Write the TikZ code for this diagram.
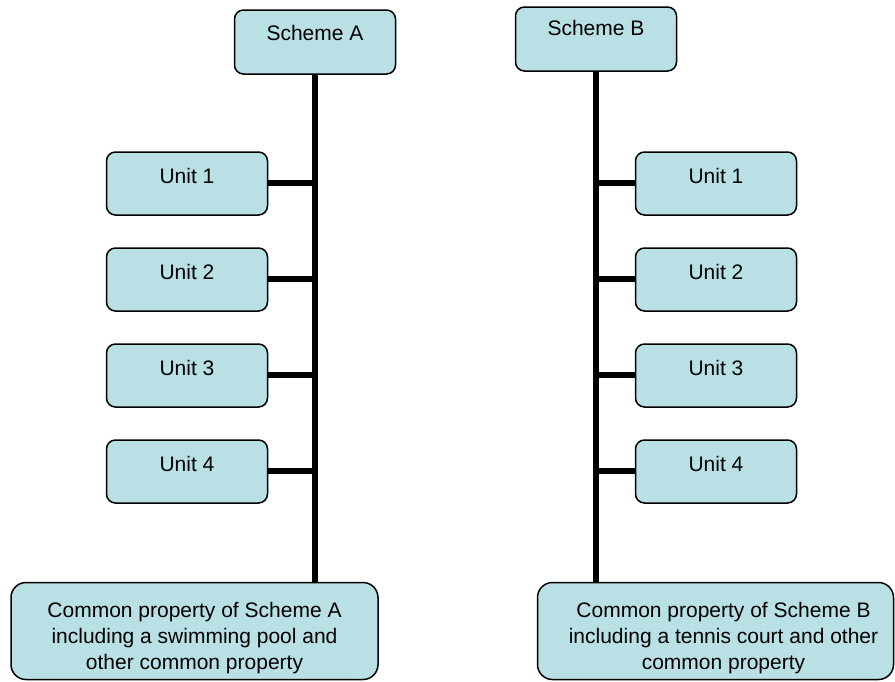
\documentclass[tikz,border=0pt]{standalone}
\usepackage{fontspec}
\setmainfont{Liberation Sans}
\definecolor{boxfill}{RGB}{185,224,228}
\begin{document}
\begin{tikzpicture}[x=1pt,y=-1pt,
  box/.style={draw=black, line width=1.5pt, fill=boxfill, rounded corners=9pt, inner sep=0pt,
    font=\fontsize{21}{26}\selectfont},
  unitbox/.style={box, minimum width=161pt, minimum height=63pt, text height=31pt, text depth=32pt},
  schemebox/.style={box, minimum width=161pt, minimum height=64pt},
  bigbox/.style={box, rounded corners=15pt},
  btext/.style={inner sep=0pt, align=center, anchor=north, font=\fontsize{21}{26}\selectfont},
  link/.style={line width=5.2pt}]
\useasboundingbox (0,0) rectangle (895,681);
% scheme boxes
\node[schemebox, text height=30pt, text depth=34pt] (sa) at (315,42) {Scheme A};
\node[schemebox, text height=28pt, text depth=36pt] (sb) at (596,39) {Scheme B};
% common property boxes
\node[bigbox, minimum width=367pt, minimum height=97pt] (ca) at (194.5,631) {};
\node[bigbox, minimum width=356pt, minimum height=97pt] (cb) at (715.5,631) {};
\node[btext] (cat) at (194.5,602) {Common property of Scheme A\\including a swimming pool and\\other common property};
\node[btext] (cbt) at (723.5,602) {Common property of Scheme B\\including a tennis court and other\\common property};
% spine coordinates
\coordinate (sa1) at (315,183);
\coordinate (sa2) at (315,279);
\coordinate (sa3) at (315,375);
\coordinate (sa4) at (315,471);
\coordinate (sb1) at (596,183);
\coordinate (sb2) at (596,279);
\coordinate (sb3) at (596,375);
\coordinate (sb4) at (596,471);
% units A
\node[unitbox] (ua1) at (187,183.5) {Unit 1};
\node[unitbox] (ua2) at (187,279.5) {Unit 2};
\node[unitbox] (ua3) at (187,375.5) {Unit 3};
\node[unitbox] (ua4) at (187,471.5) {Unit 4};
% units B
\node[unitbox] (ub1) at (716,183.5) {Unit 1};
\node[unitbox] (ub2) at (716,279.5) {Unit 2};
\node[unitbox] (ub3) at (716,375.5) {Unit 3};
\node[unitbox] (ub4) at (716,471.5) {Unit 4};
% connectors
\draw[link] (sa.south) -- (sa.south |- ca.north);
\draw[link] (sb.south) -- (sb.south |- cb.north);
\foreach \i in {1,2,3,4}{
  \draw[link] (ua\i.east |- sa\i) -- (sa\i);
  \draw[link] (sb\i) -- (ub\i.west |- sb\i);
}
\end{tikzpicture}
\end{document}
